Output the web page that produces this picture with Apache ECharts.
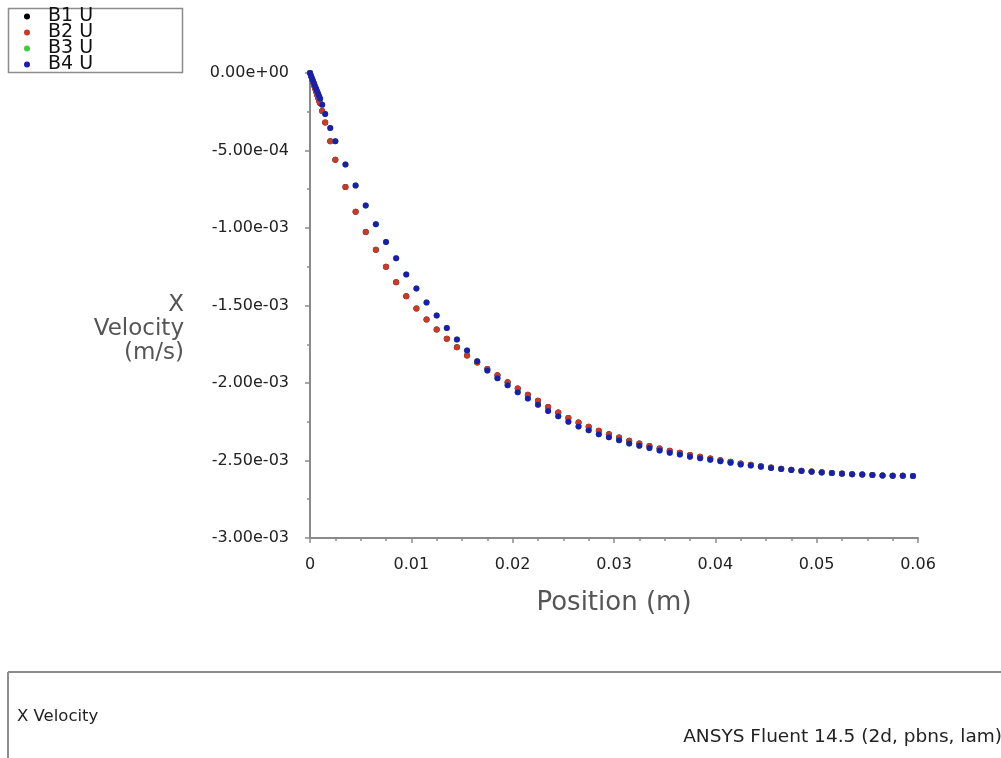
<!DOCTYPE html>
<html>
<head>
<meta charset="utf-8">
<script src="https://cdn.jsdelivr.net/npm/echarts@6/dist/echarts.min.js"></script>
<style>
html,body{margin:0;padding:0;background:#fff;}
#chart{width:1001px;height:758px;}
</style>
</head>
<body>
<div id="chart"></div>
<script>
// Position (m) of the sampled points (shared by all series)
var position = [
  0, 0.0001, 0.0002, 0.0003, 0.0004, 0.0005, 0.0006, 0.0007, 0.0008, 0.0009,
  0.001, 0.0012, 0.0015, 0.002, 0.0025, 0.0035, 0.0045, 0.0055, 0.0065, 0.0075,
  0.0085, 0.0095, 0.0105, 0.0115, 0.0125, 0.0135, 0.0145, 0.0155, 0.0165, 0.0175,
  0.0185, 0.0195, 0.0205, 0.0215, 0.0225, 0.0235, 0.0245, 0.0255, 0.0265, 0.0275,
  0.0285, 0.0295, 0.0305, 0.0315, 0.0325, 0.0335, 0.0345, 0.0355, 0.0365, 0.0375,
  0.0385, 0.0395, 0.0405, 0.0415, 0.0425, 0.0435, 0.0445, 0.0455, 0.0465, 0.0475,
  0.0485, 0.0495, 0.0505, 0.0515, 0.0525, 0.0535, 0.0545, 0.0555, 0.0565, 0.0575,
  0.0585, 0.0595
];
// X velocity (m/s), line B2 (red)
var b2U = [
  0, -0.00002, -0.00004, -0.00006, -0.00008, -0.0001, -0.00012, -0.00014, -0.00016, -0.00018,
  -0.000195, -0.000245, -0.00032, -0.00044, -0.00056, -0.000735, -0.000895, -0.001025, -0.00114, -0.00125,
  -0.00135, -0.00144, -0.00152, -0.00159, -0.001655, -0.001715, -0.00177, -0.001822, -0.001868, -0.00191,
  -0.00195, -0.001995, -0.002035, -0.002075, -0.002115, -0.002155, -0.00219, -0.002225, -0.002255, -0.002282,
  -0.002308, -0.00233, -0.002352, -0.002372, -0.00239, -0.002406, -0.002422, -0.002437, -0.00245, -0.002464,
  -0.002476, -0.002487, -0.002498, -0.002508, -0.002519, -0.002528, -0.002537, -0.002545, -0.002553, -0.00256,
  -0.002566, -0.002571, -0.002576, -0.00258, -0.002584, -0.002588, -0.002591, -0.002594, -0.002596, -0.002598,
  -0.002599, -0.0026
];
// X velocity (m/s), line B4 (blue)
var b4U = [
  0, -0.000017, -0.000034, -0.000051, -0.000068, -0.000085, -0.000101, -0.000118, -0.000134, -0.00015,
  -0.000166, -0.000205, -0.000265, -0.000355, -0.00044, -0.00059, -0.000725, -0.000855, -0.000975, -0.00109,
  -0.001195, -0.0013, -0.00139, -0.00148, -0.001565, -0.001645, -0.00172, -0.00179, -0.00186, -0.00192,
  -0.00197, -0.002015, -0.00206, -0.0021, -0.00214, -0.00218, -0.002215, -0.00225, -0.00228, -0.002305,
  -0.00233, -0.00235, -0.00237, -0.00239, -0.002405, -0.00242, -0.002435, -0.00245, -0.002462, -0.002475,
  -0.002485, -0.002495, -0.002505, -0.002515, -0.002525, -0.002533, -0.002541, -0.002548, -0.002555, -0.002561,
  -0.002567, -0.002572, -0.002577, -0.002581, -0.002585, -0.002588, -0.002591, -0.002594, -0.002596, -0.002598,
  -0.002599, -0.0026
];
// B1 and B3 coincide with B2 and B4 and are hidden beneath them
var b1U = b2U;
var b3U = b4U;

var seriesNames = ['B1 U', 'B2 U', 'B3 U', 'B4 U'];
var seriesColors = ['#000000', '#cc3a26', '#3ccc3c', '#1c1cb0'];
var seriesValues = [b1U, b2U, b3U, b4U];

var xTicks = ['0', '0.01', '0.02', '0.03', '0.04', '0.05', '0.06'];

function pairs(vals) {
  var out = [];
  for (var i = 0; i < position.length; i++) out.push([position[i], vals[i]]);
  return out;
}
function expFmt(v) {
  if (Math.abs(v) < 1e-12) return '0.00e+00';
  var s = v.toExponential(2);
  return s.replace(/e([+-])(\d)$/, 'e$10$2');
}

var FONT = '"DejaVu Sans", "Liberation Sans", sans-serif';
var chart = echarts.init(document.getElementById('chart'), null, {renderer: 'canvas'});
chart.setOption({
  animation: false,
  backgroundColor: '#ffffff',
  grid: {left: 310, top: 73, right: 83, bottom: 220, containLabel: false},
  legend: {
    orient: 'vertical',
    left: 24, top: 7,
    padding: 0,
    itemGap: -3,
    itemWidth: 6, itemHeight: 6,
    icon: 'circle',
    data: seriesNames,
    textStyle: {fontFamily: FONT, fontSize: 19, color: '#111', lineHeight: 16, padding: [0, 0, 0, 13]}
  },
  xAxis: {
    type: 'value',
    min: 0, max: 0.06, interval: 0.01,
    name: 'Position (m)',
    nameLocation: 'middle',
    nameGap: 52,
    nameTextStyle: {fontFamily: FONT, fontSize: 26, color: '#555'},
    axisLine: {show: true, onZero: false, lineStyle: {color: '#8a8a8a', width: 2}},
    axisTick: {show: true, length: 5, lineStyle: {color: '#8a8a8a', width: 1.5}},
    minorTick: {show: true, splitNumber: 4, length: 3, lineStyle: {color: '#8a8a8a', width: 1.5}},
    splitLine: {show: false},
    axisLabel: {
      margin: 19,
      fontFamily: FONT, fontSize: 16, color: '#222',
      formatter: function (v) {
        var idx = Math.round(v / 0.01);
        return xTicks[idx] !== undefined ? xTicks[idx] : '';
      }
    }
  },
  yAxis: {
    type: 'value',
    min: -0.003, max: 0, interval: 0.0005,
    axisLine: {show: true, onZero: false, lineStyle: {color: '#8a8a8a', width: 2}},
    axisTick: {show: true, length: 5, lineStyle: {color: '#8a8a8a', width: 1.5}},
    minorTick: {show: true, splitNumber: 2, length: 3, lineStyle: {color: '#8a8a8a', width: 1.5}},
    splitLine: {show: false},
    axisLabel: {margin: 21, fontFamily: FONT, fontSize: 16, color: '#222', formatter: expFmt}
  },
  series: seriesNames.map(function (n, i) {
    return {
      name: n,
      type: 'scatter',
      symbol: 'circle',
      symbolSize: 6,
      clip: false,
      itemStyle: {color: seriesColors[i], opacity: 1},
      data: pairs(seriesValues[i])
    };
  }),
  graphic: [
    {type: 'rect', shape: {x: 8.5, y: 8.5, width: 174, height: 64},
     style: {fill: 'none', stroke: '#8c8c8c', lineWidth: 1.5}, z: -1},
    {type: 'text', style: {text: 'X\nVelocity\n(m/s)', x: 184, y: 293, align: 'right', verticalAlign: 'top',
      font: '23px ' + FONT, lineHeight: 24, fill: '#555'}},
    {type: 'line', shape: {x1: 8, y1: 672, x2: 1001, y2: 672}, style: {stroke: '#8c8c8c', lineWidth: 2}},
    {type: 'line', shape: {x1: 8, y1: 672, x2: 8, y2: 758}, style: {stroke: '#8c8c8c', lineWidth: 2}},
    {type: 'text', style: {text: 'X Velocity', x: 17, y: 717, align: 'left', verticalAlign: 'middle',
      font: '16.5px ' + FONT, fill: '#222'}},
    {type: 'text', style: {text: 'ANSYS Fluent 14.5 (2d, pbns, lam)', x: 1002, y: 737, align: 'right', verticalAlign: 'middle',
      font: '18.5px ' + FONT, fill: '#222'}}
  ]
});
</script>
</body>
</html>
